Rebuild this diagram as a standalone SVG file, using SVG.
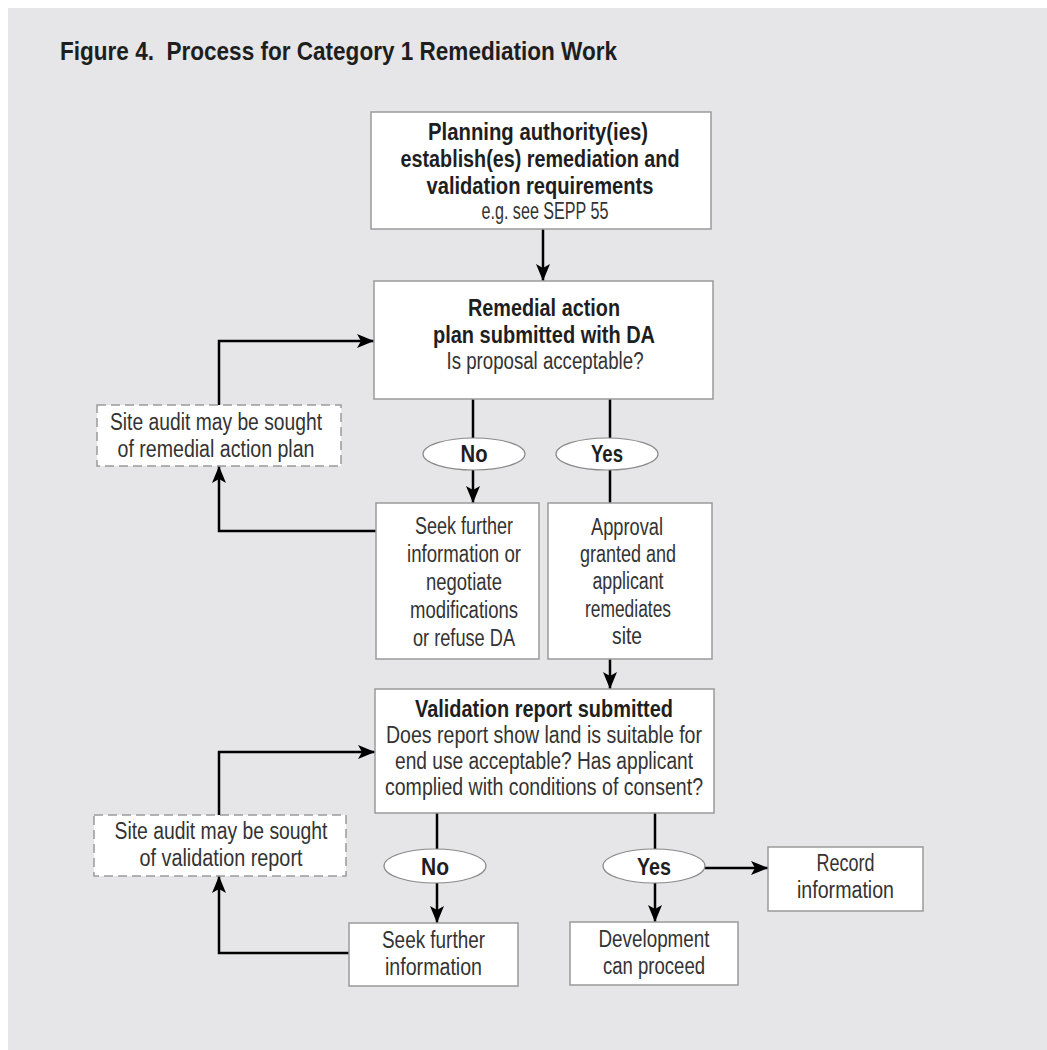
<svg xmlns="http://www.w3.org/2000/svg" width="1047" height="1050" viewBox="0 0 1047 1050">
<defs>
<style>
.box{fill:#fff;stroke:#9a9a9a;stroke-width:1.5}
.dash{fill:#fff;stroke:#9a9a9a;stroke-width:1.5;stroke-dasharray:9 5}
.oval{fill:#fff;stroke:#8a8a8a;stroke-width:1.2}
.t{font-family:"Liberation Sans Narrow","Liberation Sans",Arial,sans-serif;font-size:23px;fill:#333;text-anchor:middle}
.b{font-weight:bold;font-size:23.5px;fill:#1e1e1e}
.conn{fill:none;stroke:#000;stroke-width:2.5}
</style>
<marker id="arr" viewBox="0 0 17 14" refX="17" refY="7" markerWidth="17" markerHeight="14" orient="auto" markerUnits="userSpaceOnUse">
<path d="M0,0 L17,7 L0,14 L4,7 z" fill="#000"/>
</marker>
</defs>
<rect x="8" y="8" width="1039" height="1042" fill="#e6e6e8"/>
<text class="t b" x="60" y="60" style="text-anchor:start;font-size:25px" textLength="557" lengthAdjust="spacingAndGlyphs">Figure 4.&#160; Process for Category 1 Remediation Work</text>

<g id="connectors">
<path class="conn" d="M543,229 V281" marker-end="url(#arr)"/>
<path class="conn" d="M473,399 V438"/>
<path class="conn" d="M473,470 V503" marker-end="url(#arr)"/>
<path class="conn" d="M610,399 V438"/>
<path class="conn" d="M610,470 V503"/>
<path class="conn" d="M610,659 V689" marker-end="url(#arr)"/>
<path class="conn" d="M376,531 H219 V466" marker-end="url(#arr)"/>
<path class="conn" d="M219,405 V341 H374" marker-end="url(#arr)"/>
<path class="conn" d="M437,813 V849"/>
<path class="conn" d="M437,883 V923" marker-end="url(#arr)"/>
<path class="conn" d="M349,953 H219 V876" marker-end="url(#arr)"/>
<path class="conn" d="M219,815 V752 H375" marker-end="url(#arr)"/>
<path class="conn" d="M655,813 V849"/>
<path class="conn" d="M655,883 V922" marker-end="url(#arr)"/>
<path class="conn" d="M705,868 H768" marker-end="url(#arr)"/>
</g>

<g id="planning">
<rect class="box" x="371" y="112" width="340" height="117"/>
<text class="t b" x="538" y="140" textLength="220" lengthAdjust="spacingAndGlyphs">Planning authority(ies)</text>
<text class="t b" x="540" y="167" textLength="279" lengthAdjust="spacingAndGlyphs">establish(es) remediation and</text>
<text class="t b" x="540" y="194" textLength="227" lengthAdjust="spacingAndGlyphs">validation requirements</text>
<text class="t" x="545" y="219" textLength="127" lengthAdjust="spacingAndGlyphs">e.g. see SEPP 55</text>
</g>

<g id="remedial">
<rect class="box" x="374" y="281" width="339" height="118"/>
<text class="t b" x="544" y="316" textLength="152" lengthAdjust="spacingAndGlyphs">Remedial action</text>
<text class="t b" x="544" y="343" textLength="222" lengthAdjust="spacingAndGlyphs">plan submitted with DA</text>
<text class="t" x="545" y="369" textLength="197" lengthAdjust="spacingAndGlyphs">Is proposal acceptable?</text>
</g>

<g id="audit1">
<rect class="dash" x="97" y="405" width="244" height="61"/>
<text class="t" x="216" y="430" textLength="212" lengthAdjust="spacingAndGlyphs">Site audit may be sought</text>
<text class="t" x="216" y="457" textLength="197" lengthAdjust="spacingAndGlyphs">of remedial action plan</text>
</g>

<g id="no1">
<ellipse class="oval" cx="474" cy="454" rx="51" ry="16"/>
<text class="t b" x="474" y="462" textLength="27" lengthAdjust="spacingAndGlyphs">No</text>
</g>
<g id="yes1">
<ellipse class="oval" cx="607" cy="454" rx="51" ry="16"/>
<text class="t b" x="607" y="462" textLength="32" lengthAdjust="spacingAndGlyphs">Yes</text>
</g>

<g id="seek1">
<rect class="box" x="376" y="503" width="163" height="156"/>
<text class="t" x="464" y="534" textLength="98" lengthAdjust="spacingAndGlyphs">Seek further</text>
<text class="t" x="464" y="562" textLength="114" lengthAdjust="spacingAndGlyphs">information or</text>
<text class="t" x="464" y="590" textLength="76" lengthAdjust="spacingAndGlyphs">negotiate</text>
<text class="t" x="464" y="618" textLength="108" lengthAdjust="spacingAndGlyphs">modifications</text>
<text class="t" x="464" y="646" textLength="102" lengthAdjust="spacingAndGlyphs">or refuse DA</text>
</g>

<g id="approval">
<rect class="box" x="548" y="503" width="164" height="156"/>
<text class="t" x="627" y="535" textLength="72" lengthAdjust="spacingAndGlyphs">Approval</text>
<text class="t" x="628" y="562" textLength="96" lengthAdjust="spacingAndGlyphs">granted and</text>
<text class="t" x="628" y="589" textLength="71" lengthAdjust="spacingAndGlyphs">applicant</text>
<text class="t" x="628" y="617" textLength="86" lengthAdjust="spacingAndGlyphs">remediates</text>
<text class="t" x="627" y="644" textLength="30" lengthAdjust="spacingAndGlyphs">site</text>
</g>

<g id="validation">
<rect class="box" x="375" y="689" width="339" height="124"/>
<text class="t b" x="544" y="717" textLength="258" lengthAdjust="spacingAndGlyphs">Validation report submitted</text>
<text class="t" x="544" y="743" textLength="316" lengthAdjust="spacingAndGlyphs">Does report show land is suitable for</text>
<text class="t" x="544" y="769" textLength="298" lengthAdjust="spacingAndGlyphs">end use acceptable? Has applicant</text>
<text class="t" x="544" y="795" textLength="318" lengthAdjust="spacingAndGlyphs">complied with conditions of consent?</text>
</g>

<g id="audit2">
<rect class="dash" x="94" y="815" width="252" height="61"/>
<text class="t" x="221" y="839" textLength="213" lengthAdjust="spacingAndGlyphs">Site audit may be sought</text>
<text class="t" x="221" y="866" textLength="163" lengthAdjust="spacingAndGlyphs">of validation report</text>
</g>

<g id="no2">
<ellipse class="oval" cx="435" cy="866" rx="51" ry="17"/>
<text class="t b" x="435" y="875" textLength="28" lengthAdjust="spacingAndGlyphs">No</text>
</g>
<g id="yes2">
<ellipse class="oval" cx="654" cy="866" rx="51" ry="17"/>
<text class="t b" x="654" y="875" textLength="34" lengthAdjust="spacingAndGlyphs">Yes</text>
</g>

<g id="seek2">
<rect class="box" x="349" y="923" width="169" height="63"/>
<text class="t" x="433.5" y="948" textLength="103" lengthAdjust="spacingAndGlyphs">Seek further</text>
<text class="t" x="433.5" y="975" textLength="97" lengthAdjust="spacingAndGlyphs">information</text>
</g>

<g id="record">
<rect class="box" x="768" y="847" width="155" height="64"/>
<text class="t" x="845.5" y="871" textLength="58" lengthAdjust="spacingAndGlyphs">Record</text>
<text class="t" x="845.5" y="898" textLength="97" lengthAdjust="spacingAndGlyphs">information</text>
</g>

<g id="development">
<rect class="box" x="570" y="922" width="168" height="63"/>
<text class="t" x="654" y="947" textLength="111" lengthAdjust="spacingAndGlyphs">Development</text>
<text class="t" x="654" y="974" textLength="102" lengthAdjust="spacingAndGlyphs">can proceed</text>
</g>
</svg>
